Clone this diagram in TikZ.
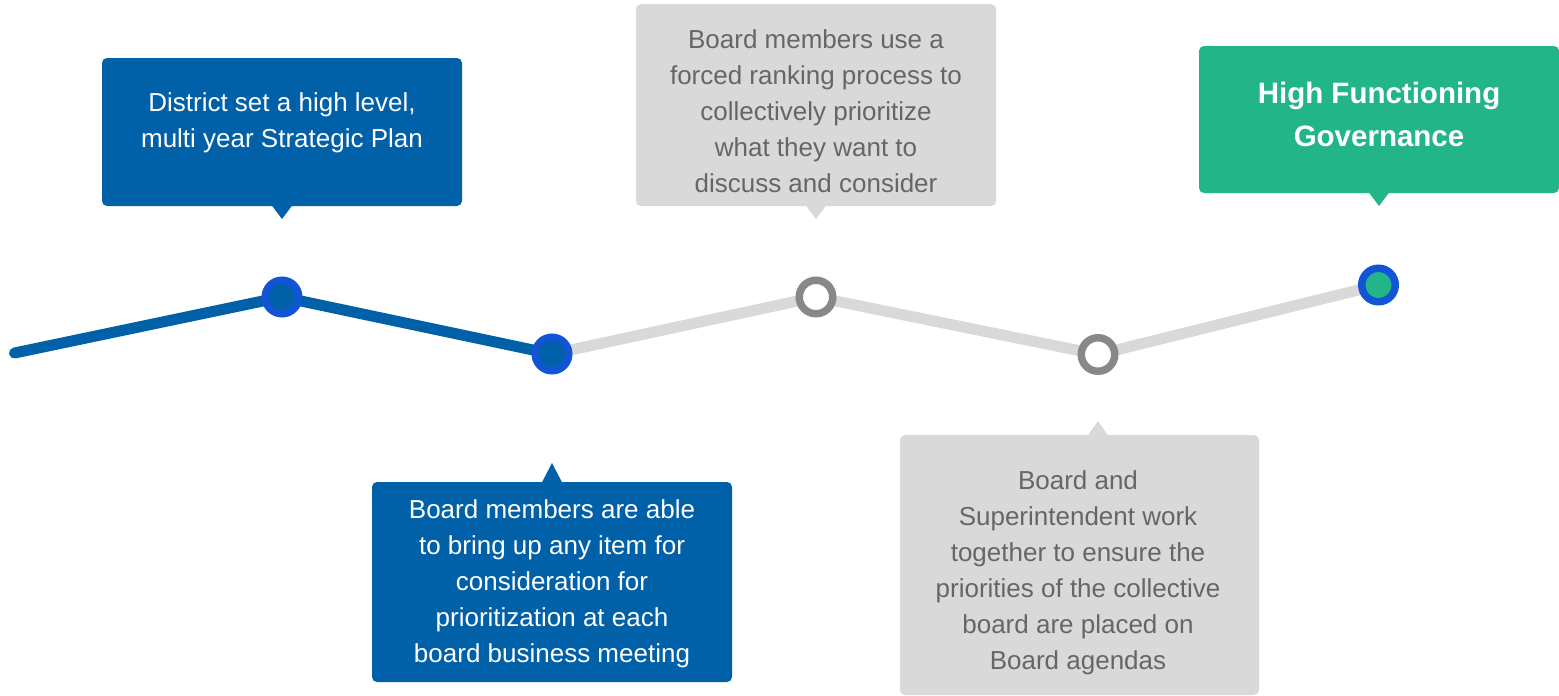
\documentclass[tikz,border=0pt]{standalone}
\usepackage{fontspec}
\setmainfont{Liberation Sans}
\definecolor{boxblue}{RGB}{0,96,168}
\definecolor{ringblue}{RGB}{17,85,212}
\definecolor{boxgreen}{RGB}{34,181,136}
\definecolor{boxgray}{RGB}{217,217,217}
\definecolor{textgray}{RGB}{102,102,102}
\definecolor{ringgray}{RGB}{136,136,136}
\definecolor{linegray}{RGB}{217,217,217}
\tikzset{
  callout/.style={rectangle, rounded corners=5pt, inner sep=0pt, draw=none},
  txt/.style={inner sep=0pt, align=center, font=\fontsize{26}{36}\selectfont},
  dotblue/.style={circle, inner sep=0pt, minimum size=33.5pt, draw=ringblue, line width=7.5pt, fill=boxblue},
  dotgray/.style={circle, inner sep=0pt, minimum size=33.5pt, draw=ringgray, line width=7.5pt, fill=white},
  dotgreen/.style={circle, inner sep=0pt, minimum size=33.5pt, draw=ringblue, line width=7.5pt, fill=boxgreen},
  tl/.style={line width=11pt, line cap=round},
}
\begin{document}
\begin{tikzpicture}[x=1pt, y=-1pt]
\useasboundingbox (0,0) rectangle (1559,696);
% callout boxes
\node[callout, fill=boxblue, minimum width=360pt, minimum height=148pt] (b1) at (282,132) {};
\node[callout, fill=boxblue, minimum width=360pt, minimum height=200pt] (b2) at (552,582) {};
\node[callout, fill=boxgray, minimum width=360pt, minimum height=202pt] (b3) at (816,105) {};
\node[callout, fill=boxgray, minimum width=359pt, minimum height=260pt] (b4) at (1079.5,565) {};
\node[callout, fill=boxgreen, minimum width=360pt, minimum height=147pt] (b5) at (1379,119.5) {};
% pointer tips
\coordinate (t1) at (282,219);
\coordinate (t2) at (552,463);
\coordinate (t3) at (816,219);
\coordinate (t4) at (1098,421);
\coordinate (t5) at (1379,206);
\fill[boxblue] ([xshift=-10pt,yshift=0.5pt]b1.south) -- (t1) -- ([xshift=10pt,yshift=0.5pt]b1.south) -- cycle;
\fill[boxblue] ([xshift=-10pt,yshift=-0.5pt]b2.north) -- (t2) -- ([xshift=10pt,yshift=-0.5pt]b2.north) -- cycle;
\fill[boxgray] ([xshift=-10pt,yshift=0.5pt]b3.south) -- (t3) -- ([xshift=10pt,yshift=0.5pt]b3.south) -- cycle;
\fill[boxgray] ([xshift=8.5pt,yshift=-0.5pt]b4.north) -- (t4) -- ([xshift=28.5pt,yshift=-0.5pt]b4.north) -- cycle;
\fill[boxgreen] ([xshift=-10pt,yshift=0.5pt]b5.south) -- (t5) -- ([xshift=10pt,yshift=0.5pt]b5.south) -- cycle;
% texts
\node[txt, text=white] (x1) at (282,123) {District set a high level,\\multi year Strategic Plan};
\node[txt, text=white] (x2) at (552,583.5) {Board members are able\\to bring up any item for\\consideration for\\prioritization at each\\board business meeting};
\node[txt, text=textgray] (x3) at (816,111) {Board members use a\\forced ranking process to\\collectively prioritize\\what they want to\\discuss and consider};
\node[txt, text=textgray] (x4) at (1078,573) {Board and\\Superintendent work\\together to ensure the\\priorities of the collective\\board are placed on\\Board agendas};
\node[inner sep=0pt, align=center, text=white, font=\fontsize{29.5}{43}\selectfont\bfseries] (x5) at (1379,114.5) {High Functioning\\Governance};
% timeline
\coordinate (s) at (14.5,353);
\coordinate (c1) at (282,297);
\coordinate (c2) at (552,354);
\coordinate (c3) at (816,297);
\coordinate (c4) at (1098,354.5);
\coordinate (c5) at (1378.5,285);
\draw[tl, linegray] (c2) -- (c3) -- (c4) -- (c5);
\draw[tl, boxblue, line join=round] (s) -- (c1) -- (c2);
\node[dotblue] (d1) at (c1) {};
\node[dotblue] (d2) at (c2) {};
\node[dotgray] (d3) at (c3) {};
\node[dotgray] (d4) at (c4) {};
\node[dotgreen] (d5) at (c5) {};
\end{tikzpicture}
\end{document}
